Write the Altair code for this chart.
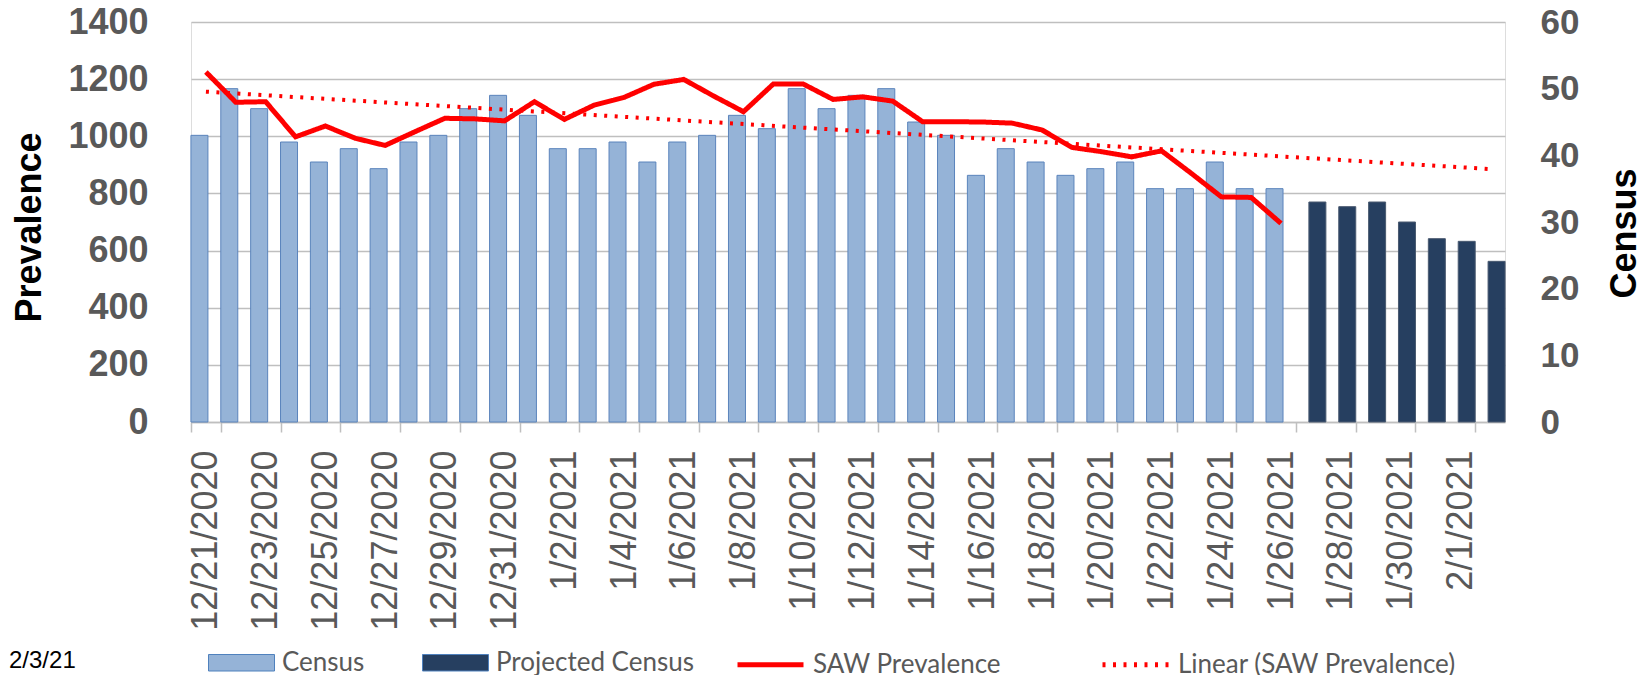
import altair as alt
import pandas as pd

dates = ["12/21/2020", "12/22/2020", "12/23/2020", "12/24/2020", "12/25/2020", "12/26/2020",
         "12/27/2020", "12/28/2020", "12/29/2020", "12/30/2020", "12/31/2020", "1/1/2021",
         "1/2/2021", "1/3/2021", "1/4/2021", "1/5/2021", "1/6/2021", "1/7/2021", "1/8/2021",
         "1/9/2021", "1/10/2021", "1/11/2021", "1/12/2021", "1/13/2021", "1/14/2021",
         "1/15/2021", "1/16/2021", "1/17/2021", "1/18/2021", "1/19/2021", "1/20/2021",
         "1/21/2021", "1/22/2021", "1/23/2021", "1/24/2021", "1/25/2021", "1/26/2021",
         "1/27/2021", "1/28/2021", "1/29/2021", "1/30/2021", "1/31/2021", "2/1/2021", "2/2/2021"]

census = [43, 50, 47, 42, 39, 41, 38, 42, 43, 47, 49, 46, 41, 41, 42, 39, 42, 43, 46, 44,
          50, 47, 49, 50, 45, 43, 37, 41, 39, 37, 38, 39, 35, 35, 39, 35, 35]
projected = [33, 32.3, 33, 30, 27.5, 27.1, 24.1]
saw = [1225, 1119, 1121, 998, 1036, 993, 968, 1016, 1063, 1061, 1054, 1121, 1059, 1109,
       1136, 1182, 1199, 1141, 1086, 1183, 1183, 1129, 1138, 1123, 1051, 1051, 1050, 1046,
       1022, 961, 946, 928, 949, 870, 788, 786, 695]
footer = "2/3/21"

bar_df = pd.DataFrame({
    "date": dates[:len(census)] + dates[len(census):],
    "value": census + projected,
    "series": ["Census"] * len(census) + ["Projected Census"] * len(projected),
})
saw_df = pd.DataFrame({"date": dates[:len(saw)], "idx": list(range(len(saw))), "saw": saw,
                       "kind": ["SAW Prevalence"] * len(saw)})

GRAY = "#595959"
GRID = "#BFBFBF"
AX_FONT = "Liberation Sans"

x_scale = alt.Scale(domain=dates, paddingInner=0, paddingOuter=0)
x_axis = alt.Axis(values=dates[::2], labelAngle=270, labelFontSize=36, labelFont=AX_FONT,
                  labelColor=GRAY, tickBand="extent", tickSize=10, tickColor=GRID, tickWidth=1.5,
                  domainColor=GRID, domainWidth=1.5, labelPadding=18, title=None, grid=False,
                  labelOverlap=False, labelBound=False, labelLimit=400)

color_scale = alt.Scale(domain=["Census", "Projected Census"], range=["#95B3D7", "#263F60"])
color_legend = alt.Legend(orient="none", legendX=17, legendY=607, direction="horizontal",
                          title=None, symbolType="M-1,-0.25H1V0.25H-1Z", symbolSize=4356,
                          labelFontSize=26, labelFont="Lato", labelColor=GRAY, labelOffset=7,
                          columnPadding=55, labelLimit=500, symbolStrokeColor="#4F81BD",
                          symbolStrokeWidth=1, symbolOpacity=1)

y_right = alt.Axis(orient="right", values=list(range(0, 61, 10)), title="Census",
                   titleFontSize=36, titleFont=AX_FONT, titleFontWeight="bold", titleColor="black",
                   titleAngle=270, titleX=130, titleY=211, titleBaseline="alphabetic",
                   titleAlign="center", labelFontSize=35, labelFont=AX_FONT,
                   labelFontWeight="bold", labelColor=GRAY, labelPadding=35, ticks=False,
                   domain=False, grid=False)

bars_c = alt.Chart(bar_df).transform_filter(alt.datum.series == "Census").mark_bar(
    width=17, xOffset=-6.5, stroke="#5B84BC", strokeWidth=1).encode(
    x=alt.X("date:N", sort=dates, scale=x_scale, axis=x_axis),
    y=alt.Y("value:Q", scale=alt.Scale(domain=[0, 60], nice=False), axis=y_right),
    color=alt.Color("series:N", scale=color_scale, legend=color_legend),
)
bars_p = alt.Chart(bar_df).transform_filter(alt.datum.series == "Projected Census").mark_bar(
    width=17, xOffset=6.5, stroke="#4A5A70", strokeWidth=1).encode(
    x=alt.X("date:N", sort=dates, scale=x_scale, axis=None),
    y=alt.Y("value:Q", scale=alt.Scale(domain=[0, 60], nice=False), axis=None),
    color=alt.Color("series:N", scale=color_scale, legend=color_legend),
)

dash_scale = alt.Scale(domain=["SAW Prevalence", "Linear (SAW Prevalence)"],
                       range=[[1, 0], [3, 7.5]])
dash_legend = alt.Legend(orient="none", legendX=544, legendY=607, direction="horizontal",
                         title=None, symbolType="stroke", symbolSize=4356,
                         symbolStrokeColor="#FF0000", symbolStrokeWidth=5,
                         labelFontSize=26, labelFont="Lato", labelColor=GRAY, labelOffset=7,
                         columnPadding=91, labelLimit=500)

y_left = alt.Axis(values=list(range(0, 1401, 200)), format="d", title="Prevalence",
                  titleFontSize=36, titleFont=AX_FONT, titleFontWeight="bold", titleColor="black",
                  titleAngle=270, titleX=-151, titleY=205, titleBaseline="alphabetic",
                  titleAlign="center", labelFontSize=36, labelFont=AX_FONT,
                  labelFontWeight="bold", labelColor=GRAY, labelPadding=43, ticks=False,
                  domain=False, grid=True, gridColor=GRID, gridWidth=1.5)

line = alt.Chart(saw_df).mark_line(color="#FF0000", strokeWidth=5).encode(
    x=alt.X("date:N", sort=dates, scale=x_scale, axis=None),
    y=alt.Y("saw:Q", scale=alt.Scale(domain=[0, 1400], nice=False), axis=y_left),
    strokeDash=alt.StrokeDash("kind:N", scale=dash_scale, legend=dash_legend),
)

trend = alt.Chart(saw_df).transform_regression(
    "idx", "saw", extent=[0, len(dates) - 1]).transform_calculate(
    kind="'Linear (SAW Prevalence)'").mark_line(color="#FF0000", strokeWidth=4).encode(
    x=alt.X("idx:Q", scale=alt.Scale(domain=[-0.5, len(dates) - 0.5], nice=False, zero=False),
            axis=None),
    y=alt.Y("saw:Q", scale=alt.Scale(domain=[0, 1400], nice=False), axis=None),
    strokeDash=alt.StrokeDash("kind:N", scale=dash_scale, legend=dash_legend),
)

foot = alt.Chart(pd.DataFrame({"t": [footer]})).mark_text(
    align="left", baseline="alphabetic", fontSize=24, font=AX_FONT, color="black").encode(
    x=alt.value(-182), y=alt.value(646), text="t:N")

chart = alt.layer(bars_c, bars_p, line, trend, foot).resolve_scale(
    x="independent", y="independent").properties(
    width=1314, height=400,
    autosize=alt.AutoSizeParams(type="none"),
    padding={"left": 183, "top": 14, "right": 138, "bottom": 253},
).configure_view(stroke=None).configure(background="white")

chart.save("out.html", embed_options={"renderer": "svg", "actions": False})
